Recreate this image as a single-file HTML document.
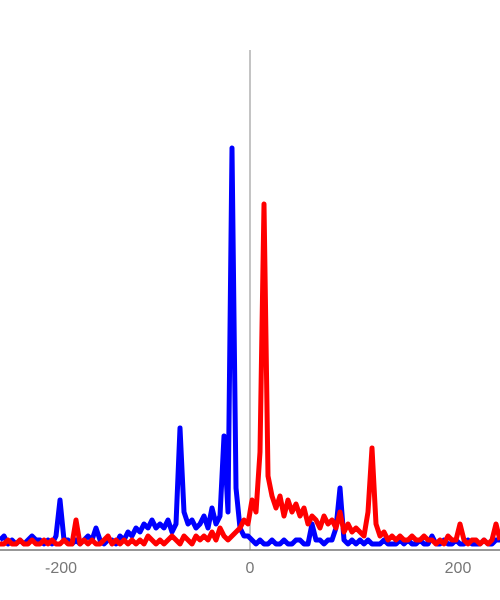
<!DOCTYPE html>
<html><head><meta charset="utf-8"><style>
html,body{margin:0;padding:0;background:#fff;}
svg{display:block;font-family:"Liberation Sans",sans-serif;}
</style></head><body>
<svg id="chart" width="500" height="600" viewBox="0 0 500 600"></svg>
<script>
const xStart = -250, xStep = 4;
const blueValues = [2,3,1,2,1,2,1,2,3,2, 2,1,2,1,3,12,2,2,1,2, 1,2,3,2,5,2,1,2,2,1, 3,2,4,3,5,4,6,5,7,5, 6,5,7,4,6,30,9,6,7,5, 6,8,5,10,6,8,28,9,100,15, 5,3,3,2,1,2,1,1,2,1, 1,2,1,1,2,2,1,1,6,2, 2,1,2,2,5,15,2,1,2,1, 2,1,2,1,1,1,2,1,1,1, 2,1,2,1,1,2,1,1,3,1, 1,2,1,1,2,1,1,2,1,1, 1,2,1,1,2,2];
const redValues = [1,1,2,1,1,2,1,1,2,1, 1,2,1,2,1,1,2,1,1,7, 1,2,1,2,1,1,2,3,1,2, 1,2,1,2,1,2,1,3,2,1, 2,1,2,3,2,1,3,2,1,3, 2,3,2,4,2,5,3,2,3,4, 5,7,6,12,9,24,86,18,13,10, 13,8,12,9,11,8,10,6,8,7, 5,8,6,7,5,9,4,6,4,5, 4,3,9,25,6,3,4,2,3,2, 3,2,2,3,2,2,3,2,2,1, 2,1,3,2,2,6,2,1,2,2, 1,2,1,2,6,2];
const tickValues = [-200, 0, 200];
const tickLabels = ["-200", "0", "200"];

const NS = "http://www.w3.org/2000/svg";
const svg = document.getElementById("chart");
function x(v){ return 250 + v * 1.0; }
function y(v){ return 548 - v * 4; }
function mk(tag, attrs){ const e = document.createElementNS(NS, tag); for (const k in attrs) e.setAttribute(k, attrs[k]); svg.appendChild(e); return e; }

const zl = mk("line", {x1:250, y1:50, x2:250, y2:550, stroke:"#888", "stroke-width":1});



function series(vals, color, name){
  const pts = vals.map((v,i) => x(xStart + i*xStep).toFixed(1) + "," + y(v).toFixed(1)).join(" ");
  const p = mk("polyline", {points:pts, fill:"none", stroke:color, "stroke-width":5, "stroke-linejoin":"round"});
  
  
}
series(blueValues, "#0000ff", "blue-series");
series(redValues, "#ff0000", "red-series");

const ax = mk("line", {x1:0, y1:550, x2:500, y2:550, stroke:"#777", "stroke-width":1.5});



const labelShift = {"-200": 11, "0": 0, "200": 8};
tickValues.forEach((v,i) => {
  const t = mk("text", {x: x(v) + labelShift[tickLabels[i]], y: 573, "text-anchor":"middle", "font-size":16, fill:"#777"});
  t.textContent = tickLabels[i];
  
  
});
</script>
</body></html>
